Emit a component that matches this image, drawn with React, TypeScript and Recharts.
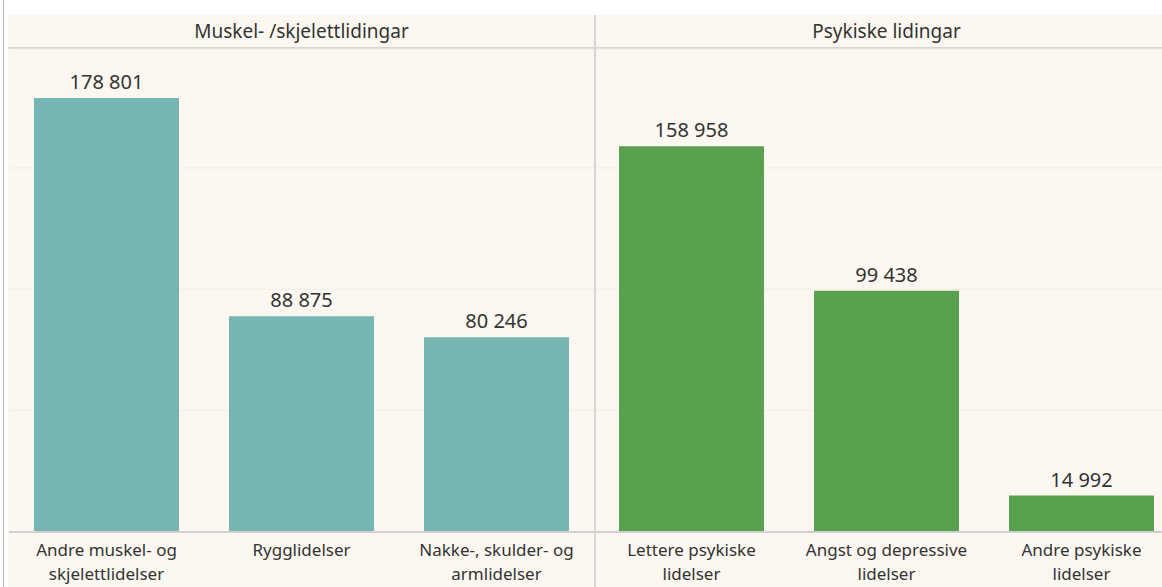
import { Bar, BarChart, CartesianGrid, Cell, LabelList, XAxis, YAxis } from "recharts";

const groups = ["Muskel- /skjelettlidingar", "Psykiske lidingar"];
const categories = [
  "Andre muskel- og skjelettlidelser",
  "Rygglidelser",
  "Nakke-, skulder- og armlidelser",
  "Lettere psykiske lidelser",
  "Angst og depressive lidelser",
  "Andre psykiske lidelser",
];
const tickLines = [
  ["Andre muskel- og", "skjelettlidelser"],
  ["Rygglidelser"],
  ["Nakke-, skulder- og", "armlidelser"],
  ["Lettere psykiske", "lidelser"],
  ["Angst og depressive", "lidelser"],
  ["Andre psykiske", "lidelser"],
];
const categoryGroup = [0, 0, 0, 1, 1, 1];
const values = [178801, 88875, 80246, 158958, 99438, 14992];
const groupColors = ["#76b5b1", "#59a14f"];
const yTicks = [0, 50000, 100000, 150000];

const data = categories.map((name, i) => ({ name, value: values[i], idx: i }));

const font = "'Noto Sans', sans-serif";
const fmt = (v: number) => String(v).replace(/\B(?=(\d{3})+(?!\d))/g, " ");

function CategoryTick(props: any) {
  const { x, y, payload } = props;
  const lines = tickLines[payload.index] ?? [payload.value];
  return (
    <text x={x} y={y} textAnchor="middle" fill="#333" fontSize={17} fontFamily={font}>
      {lines.map((l, i) => (
        <tspan key={i} x={x} dy={i === 0 ? 16 : 24}>
          {l}
        </tspan>
      ))}
    </text>
  );
}

export default function App() {
  return (
    <div style={{ position: "absolute", left: 0, top: 0, width: 1162, height: 587, overflow: "hidden", background: "#fff" }}>
      <div style={{ position: "absolute", left: 3, top: 0, width: 1, height: 587, background: "#b8b8b8" }} />
      <div style={{ position: "absolute", left: 8, top: 15, width: 1154, height: 572, background: "#fcf8f1" }} />
      {groups.map((g, i) => (
        <div
          key={g}
          style={{
            position: "absolute",
            left: 9 + i * 585,
            top: 15,
            width: 585,
            height: 33,
            lineHeight: "33px",
            textAlign: "center",
            fontFamily: font,
            fontSize: 19,
            color: "#333",
          }}
        >
          {g}
        </div>
      ))}
      <div style={{ position: "absolute", left: 8, top: 47, width: 1154, height: 2, background: "#d6d6d6" }} />
      <div style={{ position: "absolute", left: 9, top: 15 }}>
        <BarChart width={1170} height={572} data={data} margin={{ top: 34, right: 0, bottom: 0, left: 0 }} barCategoryGap={25}>
          <CartesianGrid vertical={false} stroke="#f1ece4" />
          <YAxis hide domain={[0, 199000]} ticks={yTicks} />
          <XAxis
            dataKey="name"
            height={55}
            interval={0}
            tickLine={false}
            axisLine={{ stroke: "#d0d0d0", strokeWidth: 2 }}
            tick={<CategoryTick />}
          />
          <Bar dataKey="value" isAnimationActive={false}>
            {data.map((d) => (
              <Cell key={d.name} fill={groupColors[categoryGroup[d.idx]]} />
            ))}
            <LabelList dataKey="value" position="top" offset={9} formatter={(v: any) => fmt(v)} fill="#333" fontSize={20} fontFamily={font} />
          </Bar>
        </BarChart>
      </div>
      <div style={{ position: "absolute", left: 594, top: 15, width: 2, height: 572, background: "#d6d6d6" }} />
    </div>
  );
}
